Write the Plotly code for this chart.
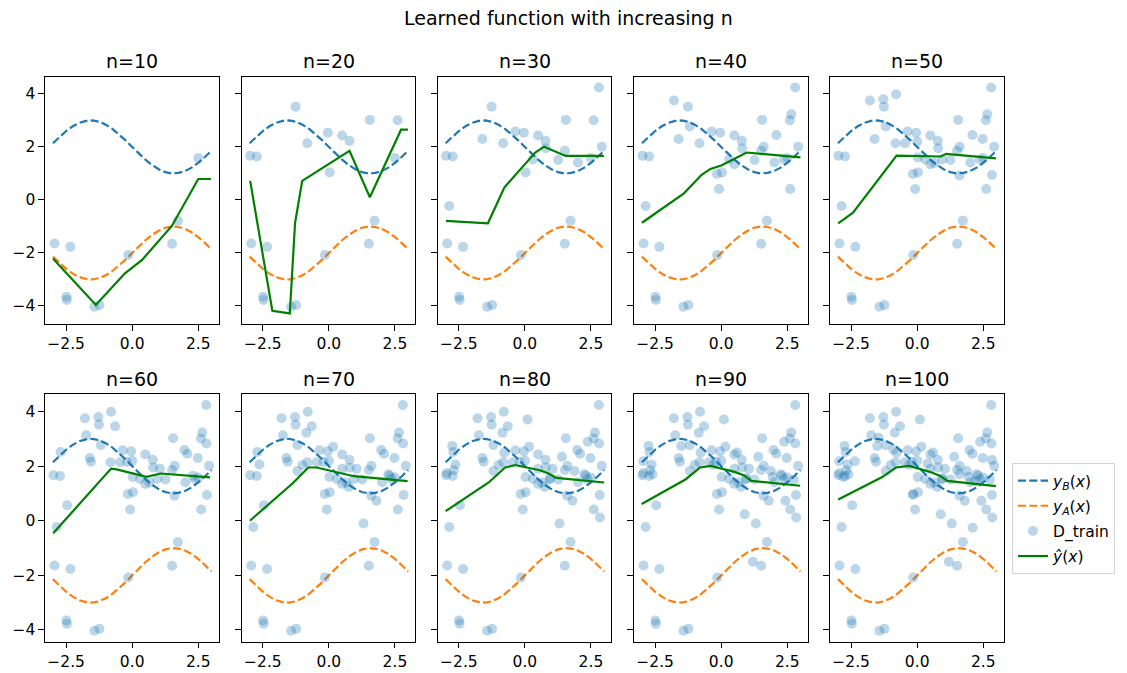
import plotly.graph_objects as go

# ---------------- data ----------------
n_values = [10, 20, 30, 40, 50, 60, 70, 80, 90, 100]

curve_x = [-3.0, -2.75, -2.5, -2.25, -2.0, -1.75, -1.5, -1.25, -1.0, -0.75, -0.5, -0.25, 0.0,
           0.25, 0.5, 0.75, 1.0, 1.25, 1.5, 1.75, 2.0, 2.25, 2.5, 2.75, 3.0]
y_B = [2.14, 2.38, 2.60, 2.78, 2.91, 2.98, 3.00, 2.95, 2.84, 2.68, 2.48, 2.25, 2.00,
       1.75, 1.52, 1.32, 1.16, 1.05, 1.00, 1.02, 1.09, 1.22, 1.40, 1.62, 1.86]
y_A = [-2.14, -2.38, -2.60, -2.78, -2.91, -2.98, -3.00, -2.95, -2.84, -2.68, -2.48, -2.25, -2.00,
       -1.75, -1.52, -1.32, -1.16, -1.05, -1.00, -1.02, -1.09, -1.22, -1.40, -1.62, -1.86]

train_x = [
    -2.94, -2.34, -2.49, -2.47, -1.43, -1.24, -0.15, 1.51, 1.73, 2.50,
    -1.26, -2.98, -2.73, -0.82, -0.04, 0.50, 0.78, 0.03, 1.55, 2.60,
    2.80, -1.61, -0.36, 0.79, 0.30, 1.26, 1.51, 2.01, 2.91, -2.86,
    -1.79, -1.19, -0.16, -0.08, 0.50, 1.61, 2.09, 2.65, 2.61, 2.37,
    -0.80, -1.28, -0.46, 0.00, 0.95, 1.60, 2.48, 2.83, 0.02, 0.65,
    -0.65, -1.74, -1.56, -2.71, -2.46, 1.98, 2.81, -0.20, 1.05, 2.30,
    -0.85, -2.63, -1.19, -1.00, 0.16, 0.75, 1.31, 1.80, 2.25, 0.50,
    0.10, -2.75, -2.69, -0.78, 1.88, 1.40, 2.84, 2.38, -2.95, 0.95,
    0.89, 1.20, -2.95, -1.51, 2.43, 1.95, -2.60, 0.60, -0.30, 2.75,
    -2.36, 2.10, -1.46, 2.83, -2.80, 0.40, 1.60, -0.90, 2.20, -0.15,
]
train_y = [
    -1.64, -1.77, -3.65, -3.77, -4.03, -3.96, -2.08, -1.65, -0.78, 1.58,
    3.52, 1.67, 1.64, 2.14, 2.54, 2.43, 2.23, 1.04, 3.02, 3.01,
    4.24, 2.30, 2.58, 1.95, 1.53, 1.51, 1.86, 1.41, 2.01, -0.23,
    3.75, 2.77, 0.98, 0.41, 1.35, 2.01, 2.45, 3.23, 0.41, 1.53,
    3.99, 3.80, 2.14, 2.20, 1.53, 0.92, 2.30, 0.94, 1.60, 1.40,
    3.46, 3.13, 2.16, 2.52, 0.57, 2.59, 2.83, 2.15, 1.90, 1.65,
    3.22, 2.06, 1.82, 2.04, 2.71, 1.24, -0.10, 0.73, 1.70, 1.90,
    3.71, 2.74, 1.85, 2.49, 1.82, 2.34, 0.12, 2.89, 1.75, 1.55,
    0.24, -1.50, 2.18, 2.74, 0.73, 1.60, 1.70, 2.50, 2.05, 1.50,
    2.18, -0.26, 3.04, 2.22, 1.60, 2.10, 1.70, 2.60, 1.45, 0.95,
]

fit_x = [
    [-3.0, -1.375, -0.275, 0.375, 1.5, 2.5, 2.98],
    [-2.98, -2.14, -1.48, -1.28, -1.01, 0.78, 1.55, 2.73, 2.99],
    [-2.99, -1.40, -0.78, 0.39, 0.73, 1.54, 2.99],
    [-3.0, -1.41, -0.75, -0.41, 0.0, 0.96, 3.0],
    [-2.99, -2.43, -0.78, 0.89, 1.10, 2.98],
    [-2.99, -0.80, -0.59, 0.54, 1.08, 2.95],
    [-2.99, -1.37, -0.78, -0.46, 0.94, 2.98],
    [-3.0, -1.37, -0.75, -0.37, 0.56, 0.90, 1.19, 3.0],
    [-3.01, -1.34, -0.80, -0.40, 0.51, 0.85, 1.14, 2.99],
    [-2.99, -1.34, -0.80, -0.30, 0.48, 0.85, 1.14, 2.98],
]
fit_y = [
    [-2.21, -3.96, -2.77, -2.26, -0.98, 0.79, 0.79],
    [0.72, -4.18, -4.28, -0.86, 0.72, 1.85, 0.10, 2.65, 2.65],
    [-0.79, -0.88, 0.47, 1.79, 2.01, 1.66, 1.66],
    [-0.86, 0.25, 0.94, 1.17, 1.30, 1.79, 1.61],
    [-0.88, -0.48, 1.67, 1.64, 1.74, 1.57],
    [-0.46, 1.91, 1.88, 1.61, 1.73, 1.59],
    [0.00, 1.37, 1.95, 1.95, 1.63, 1.45],
    [0.35, 1.40, 1.95, 2.04, 1.85, 1.73, 1.57, 1.40],
    [0.61, 1.52, 1.95, 2.01, 1.79, 1.67, 1.46, 1.28],
    [0.78, 1.59, 1.95, 2.01, 1.79, 1.65, 1.46, 1.27],
]

# ---------------- layout helpers ----------------
W, H = 1127, 673
col_left = [45, 241.7, 437.7, 634, 830]
ax_w = 173.6
row_top = [76.7, 394.3]
row_bot = [324.0, 641.7]
y_ranges = [[-4.68, 4.65], [-4.43, 4.63]]
FONT = "DejaVu Sans"
TICK_FS = 15.5
TITLE_FS = 19

BLUE = "#1f77b4"
ORANGE = "#ff7f0e"
GREEN = "#008000"
DASH = "8px,3.3px"

fig = go.Figure()
layout = dict(
    width=W, height=H,
    margin=dict(l=0, r=0, t=0, b=0),
    paper_bgcolor="white", plot_bgcolor="white",
    font=dict(family=FONT, color="black", size=TICK_FS),
    showlegend=True,
    legend=dict(x=1012 / W, y=1 - 463 / H, xanchor="left", yanchor="top",
                bordercolor="#d5d5d5", borderwidth=1, bgcolor="white",
                font=dict(size=TICK_FS, family=FONT),
                traceorder="grouped", tracegroupgap=2, itemwidth=30),
)
annotations = []

for i, n in enumerate(n_values):
    r, c = divmod(i, 5)
    k = i + 1
    sfx = "" if k == 1 else str(k)
    xa, ya = "x" + sfx, "y" + sfx
    x0 = col_left[c]
    layout["xaxis" + sfx] = dict(
        domain=[x0 / W, (x0 + ax_w) / W], anchor=ya, range=[-3.3, 3.27],
        tickvals=[-2.5, 0, 2.5], ticktext=["\u22122.5", "0.0", "2.5"],
        ticks="outside", ticklen=5.5, tickwidth=1.2, tickcolor="black",
        showline=True, linecolor="black", linewidth=1.2, mirror=True,
        showgrid=False, zeroline=False,
        tickfont=dict(size=TICK_FS, family=FONT, color="black"),
    )
    layout["yaxis" + sfx] = dict(
        domain=[1 - row_bot[r] / H, 1 - row_top[r] / H], anchor=xa, range=y_ranges[r],
        tickvals=[-4, -2, 0, 2, 4], ticktext=["\u22124", "\u22122", "0", "2", "4"],
        showticklabels=(c == 0),
        ticks="outside", ticklen=5.5, tickwidth=1.2, tickcolor="black",
        showline=True, linecolor="black", linewidth=1.2, mirror=True,
        showgrid=False, zeroline=False,
        tickfont=dict(size=TICK_FS, family=FONT, color="black"),
    )
    first = (i == 0)
    fig.add_trace(go.Scatter(x=curve_x, y=y_B, mode="lines", xaxis=xa, yaxis=ya,
                             line=dict(color=BLUE, width=2.2, dash=DASH),
                             name="<i>y</i><sub><i>B</i></sub>(<i>x</i>)",
                             legendgroup="g1", showlegend=first))
    fig.add_trace(go.Scatter(x=curve_x, y=y_A, mode="lines", xaxis=xa, yaxis=ya,
                             line=dict(color=ORANGE, width=2.2, dash=DASH),
                             name="<i>y</i><sub><i>A</i></sub>(<i>x</i>)",
                             legendgroup="g2", showlegend=first))
    fig.add_trace(go.Scatter(x=train_x[:n], y=train_y[:n], mode="markers", xaxis=xa, yaxis=ya,
                             marker=dict(color="rgba(31,119,180,0.3)", size=10, line=dict(width=0)),
                             name="D_train", legendgroup="g3", showlegend=first))
    fig.add_trace(go.Scatter(x=fit_x[i], y=fit_y[i], mode="lines", xaxis=xa, yaxis=ya,
                             line=dict(color=GREEN, width=2.2),
                             name="<i>\u0177</i>(<i>x</i>)",
                             legendgroup="g4", showlegend=first))
    annotations.append(dict(text=f"n={n}", x=(x0 + ax_w / 2) / W,
                            y=1 - (row_top[r] - 15.5) / H, xref="paper", yref="paper",
                            xanchor="center", yanchor="middle", showarrow=False,
                            font=dict(size=TITLE_FS, family=FONT, color="black")))

annotations.append(dict(text="Learned function with increasing n", x=568 / W, y=1 - 18 / H,
                        xref="paper", yref="paper", xanchor="center", yanchor="middle",
                        showarrow=False, font=dict(size=TITLE_FS, family=FONT, color="black")))
layout["annotations"] = annotations
fig.update_layout(**layout)
fig.write_html("out.html")
